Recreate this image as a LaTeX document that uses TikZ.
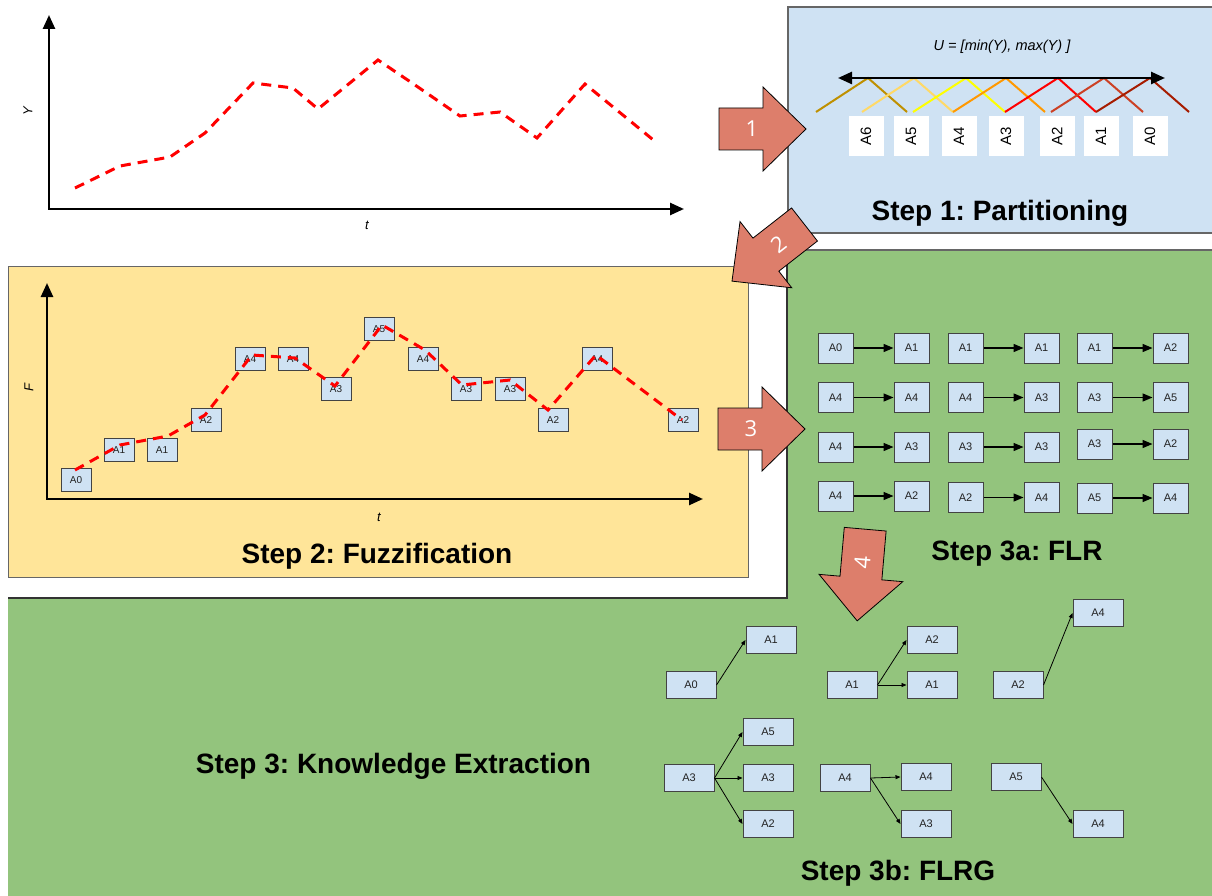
\documentclass[tikz,border=0pt]{standalone}
\usepackage{fontspec}
\setmainfont{Liberation Sans}
\newfontfamily\digitfont{Open Sans}
\usetikzlibrary{arrows.meta}
\frenchspacing
\definecolor{bluebg}{HTML}{CFE2F3}
\definecolor{yellowbg}{HTML}{FFE599}
\definecolor{greenbg}{HTML}{93C47D}
\definecolor{salmon}{HTML}{DD7E6B}
\definecolor{framegray}{HTML}{666666}
\definecolor{boxline}{HTML}{434343}
\definecolor{labelgray}{HTML}{222222}
\definecolor{pa}{HTML}{BF9000}
\definecolor{pb}{HTML}{FFD966}
\definecolor{pc}{HTML}{FFFF00}
\definecolor{pd}{HTML}{FF9900}
\definecolor{pe}{HTML}{FF0000}
\definecolor{pf}{HTML}{CC4125}
\definecolor{pg}{HTML}{A61C00}
\tikzset{
  steptitle/.style={font=\bfseries\fontsize{28}{34}\selectfont, inner sep=0, anchor=base},
  fuzbox/.style={draw=boxline, fill=bluebg, line width=0.9pt, minimum width=30pt, minimum height=23pt, inner sep=0, font=\fontsize{10}{12}\selectfont, text=labelgray},
  flrbox/.style={draw=boxline, fill=bluebg, line width=1pt, minimum width=35pt, minimum height=30pt, inner sep=0, font=\fontsize{11}{13}\selectfont, text=labelgray},
  grpbox/.style={draw=boxline, fill=bluebg, line width=1pt, minimum width=50pt, minimum height=27pt, inner sep=0, font=\fontsize{11}{13}\selectfont, text=labelgray},
  partbox/.style={fill=white, minimum width=40pt, minimum height=35pt, inner sep=0, rotate=90, font=\fontsize{15}{17}\selectfont},
  redline/.style={pe, line width=3pt, dash pattern=on 10pt off 7pt},
  axisline/.style={line width=2.5pt, {Triangle[length=14pt,width=12pt]}-{Triangle[length=14pt,width=12pt]}},
  flrarrow/.style={line width=1.4pt, -{Triangle[length=10pt,width=8pt]}},
  grparrow/.style={line width=0.8pt, -{Triangle[length=5pt,width=4pt]}},
  memb/.style={line width=2pt},
  blockarrowstyle/.style={fill=salmon, draw=black, line width=0.8pt, line join=miter},
  arrowlabel/.style={text=white, font=\digitfont\fontsize{22}{24}\selectfont, inner sep=0},
  axislabel/.style={font=\itshape\fontsize{13}{15}\selectfont, inner sep=0},
}
\newcommand\blockarrow[7]{%
  \begin{scope}[shift={(#2,#3)},rotate=#4]
    \draw[blockarrowstyle] (0,-21) -- (#5,-21) -- (#5,-42) -- ({#5+43},0) -- (#5,42) -- (#5,21) -- (0,21) -- cycle;
    \node[arrowlabel,rotate=#7] (#1) at (33,0) {#6};
  \end{scope}}
\begin{document}
\begin{tikzpicture}[x=1pt,y=-1pt]
\useasboundingbox (0,0) rectangle (1212,896);
% backgrounds
\fill[white] (0,0) rectangle (1212,896);
\fill[greenbg] (8,250) rectangle (1212,896);
\draw[framegray, line width=1.2pt] (787,250) -- (1212,250);
\fill[white] (0,238) rectangle (787,598);
\draw[black!80, line width=1.2pt] (787,250) -- (787,598) -- (8,598);
\fill[bluebg] (788,7) rectangle (1212,233);
\draw[framegray, line width=1.2pt] (1212,7) -- (788,7) -- (788,233) -- (1212,233);
\fill[yellowbg] (8,266) rectangle (748,577);
\draw[framegray, line width=1pt] (8,266) rectangle (748,577);
\draw[framegray, line width=1.8pt] (8,577.5) -- (748.5,577.5) -- (748.5,266);

% ---------- top chart ----------
\coordinate (yo) at (49,209);
\coordinate (ytop) at (49,15);
\coordinate (yright) at (684,209);
\draw[axisline] (ytop) -- (yo) -- (yright);
\node[axislabel, rotate=90] (ylab) at (28,111) {Y};
\node[axislabel] (tlab1) at (367,225) {t};
\draw[redline] (75,188) -- (120,166) -- (170,157) -- (205,133) -- (253,83) -- (293,88) -- (318,109) -- (378,60) -- (415,85) -- (460,116) -- (500,112) -- (537,138) -- (585,84) -- (657,143);

% ---------- step 1 ----------
\node[font=\itshape\fontsize{14.5}{17}\selectfont, inner sep=0] (ulab) at (1002,47) {U = [min(Y), max(Y) ]};
\draw[memb, pa] (816,112) -- (868,78) -- (907,112);
\draw[memb, pb] (862,112) -- (914,78) -- (953,112);
\draw[memb, pc] (913,112) -- (966,78) -- (1005,112);
\draw[memb, pd] (953,112) -- (1006,78) -- (1045,112);
\draw[memb, pe] (1005,112) -- (1058,78) -- (1096,112);
\draw[memb, pf] (1051,112) -- (1104,78) -- (1143,112);
\draw[memb, pg] (1096,112) -- (1150,78) -- (1189,112);
\coordinate (uleft) at (838,78);
\coordinate (uright) at (1165,78);
\draw[axisline] (uleft) -- (uright);
\node[partbox] (pA6) at (866,136) {A6};
\node[partbox] (pA5) at (911,136) {A5};
\node[partbox] (pA4) at (959,136) {A4};
\node[partbox] (pA3) at (1006,136) {A3};
\node[partbox] (pA2) at (1057,136) {A2};
\node[partbox] (pA1) at (1101,136) {A1};
\node[partbox] (pA0) at (1150,136) {A0};
\node[steptitle] (t1) at (1000,220) {Step 1: Partitioning};

% ---------- step 2 ----------
\coordinate (fo) at (47,499);
\coordinate (ftop) at (47,283);
\coordinate (fright) at (703,499);
\draw[axisline] (ftop) -- (fo) -- (fright);
\node[axislabel, rotate=90] (flab) at (29,388) {F};
\node[axislabel] (tlab2) at (379,517) {t};
\node[fuzbox] (fz1) at (76,480) {A0};
\node[fuzbox] (fz2) at (119,450) {A1};
\node[fuzbox] (fz3) at (162,450) {A1};
\node[fuzbox] (fz4) at (206,420) {A2};
\node[fuzbox] (fz5) at (250,359) {A4};
\node[fuzbox] (fz6) at (293,359) {A4};
\node[fuzbox] (fz7) at (336,389) {A3};
\node[fuzbox] (fz8) at (379,329) {A5};
\node[fuzbox] (fz9) at (423,359) {A4};
\node[fuzbox] (fz10) at (466,389) {A3};
\node[fuzbox] (fz11) at (510,389) {A3};
\node[fuzbox] (fz12) at (553,420) {A2};
\node[fuzbox] (fz13) at (597,359) {A4};
\node[fuzbox] (fz14) at (683,420) {A2};
\draw[redline] (75,470) -- (120,445) -- (168,436) -- (205,415) -- (252,355) -- (295,358) -- (335,386) -- (382,325) -- (425,350) -- (462,385) -- (510,380) -- (548,410) -- (596,355) -- (682,420);
\node[steptitle] (t2) at (377,563) {Step 2: Fuzzification};

% ---------- step 3a ----------
\foreach \r/\c/\x/\y/\s/\t in {
  1/1/835.5/348/A0/A1, 1/2/965.5/348/A1/A1, 1/3/1094.5/348/A1/A2,
  2/1/835.5/397.5/A4/A4, 2/2/965.5/397.5/A4/A3, 2/3/1094.5/397.5/A3/A5,
  3/1/835.5/447/A4/A3, 3/2/965.5/447/A3/A3, 3/3/1094.5/444/A3/A2,
  4/1/835.5/496/A4/A2, 4/2/965.5/497.5/A2/A4, 4/3/1094.5/498/A5/A4}{
  \node[flrbox] (rs\r\c) at (\x,\y) {\s};
  \node[flrbox] (rt\r\c) at (\x+76,\y) {\t};
  \draw[flrarrow] (rs\r\c) -- (rt\r\c);
}
\node[steptitle] (t3a) at (1017,560) {Step 3a: FLR};

% ---------- step 3b ----------
\node[grpbox] (gA0) at (691,685) {A0};
\node[grpbox] (gA0a) at (771,640) {A1};
\draw[grparrow] (gA0.east) -- (gA0a.west);
\node[grpbox] (gA1) at (852,685) {A1};
\node[grpbox] (gA1a) at (932,640) {A2};
\node[grpbox] (gA1b) at (932,685) {A1};
\draw[grparrow] (gA1.east) -- (gA1a.west);
\draw[grparrow] (gA1.east) -- (gA1b.west);
\node[grpbox] (gA2) at (1018,685) {A2};
\node[grpbox] (gA2a) at (1098,613) {A4};
\draw[grparrow] (gA2.east) -- (gA2a.west);
\node[grpbox] (gA3) at (689,778) {A3};
\node[grpbox] (gA3a) at (768,732) {A5};
\node[grpbox] (gA3b) at (768,778) {A3};
\node[grpbox] (gA3c) at (768,824) {A2};
\draw[grparrow] (gA3.east) -- (gA3a.west);
\draw[grparrow] (gA3.east) -- (gA3b.west);
\draw[grparrow] (gA3.east) -- (gA3c.west);
\node[grpbox] (gA4) at (845,778) {A4};
\node[grpbox] (gA4a) at (926,777) {A4};
\node[grpbox] (gA4b) at (926,824) {A3};
\draw[grparrow] (gA4.east) -- (gA4a.west);
\draw[grparrow] (gA4.east) -- (gA4b.west);
\node[grpbox] (gA5) at (1016,777) {A5};
\node[grpbox] (gA5a) at (1098,824) {A4};
\draw[grparrow] (gA5.east) -- (gA5a.west);
\node[steptitle] (t3b) at (898,880) {Step 3b: FLRG};
\node[steptitle] (t3) at (393.5,773) {Step 3: Knowledge Extraction};

% ---------- block arrows ----------
\blockarrow{a1}{719}{129}{0}{44}{1}{0}
\blockarrow{a2}{804.5}{224.5}{218}{49}{2}{38}
\blockarrow{a3}{718}{429}{0}{44}{3}{0}
\blockarrow{a4}{865.2}{529.2}{265}{49}{4}{85}
\end{tikzpicture}
\end{document}
